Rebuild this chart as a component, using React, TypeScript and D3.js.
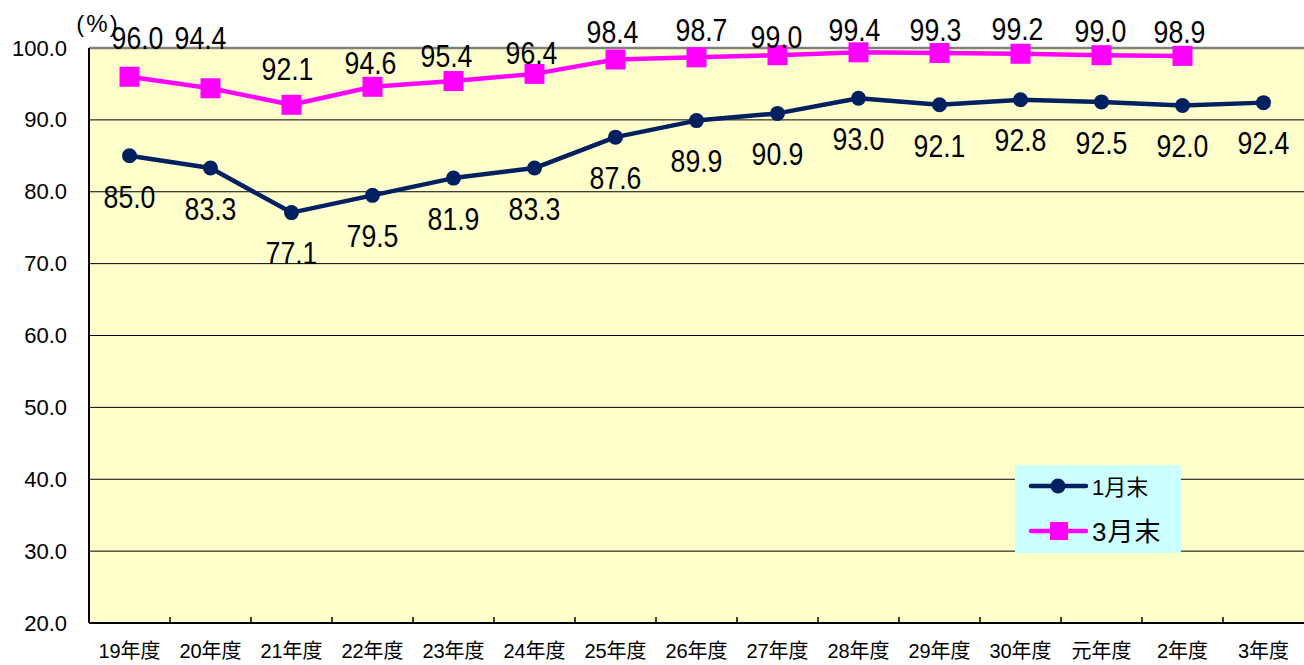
import React, { useEffect, useRef } from 'react';
import * as d3 from 'd3';

// fiscal years on the x axis
const categories = ['19年度', '20年度', '21年度', '22年度', '23年度', '24年度', '25年度', '26年度', '27年度', '28年度', '29年度', '30年度', '元年度', '2年度', '3年度'];

// end of January (%)
const janValues = [85.0, 83.3, 77.1, 79.5, 81.9, 83.3, 87.6, 89.9, 90.9, 93.0, 92.1, 92.8, 92.5, 92.0, 92.4];
// end of March (%) - no value yet for 3年度
const marValues = [96.0, 94.4, 92.1, 94.6, 95.4, 96.4, 98.4, 98.7, 99.0, 99.4, 99.3, 99.2, 99.0, 98.9];

const yTicks = [20, 30, 40, 50, 60, 70, 80, 90, 100];

const janName = '1月末';
const marName = '3月末';

// hand-placed label nudges for the March series (px, relative to the marker)
const marLabelNudge: [number, number][] = [
  [8, -38], [-10, -50], [-4, -36], [-2, -24], [-7, -25], [-3, -21], [-3, -27],
  [5, -27], [-1, -18], [-4, -22], [-4, -23], [-3, -24], [-1, -24], [-3, -24],
];

const FONT = '"Liberation Sans", Arial, "Noto Sans CJK JP", sans-serif';
const NAVY = '#002060';
const MAGENTA = '#ff00ff';

const App = () => {
  const svgRef = useRef<SVGSVGElement | null>(null);

  useEffect(() => {
    if (!svgRef.current) return;
    const svg = d3.select(svgRef.current);
    svg.selectAll('*').remove();

    const width = 1304;
    const height = 665;
    const left = 89, right = 1304, top = 48, bottom = 623;

    svg.attr('width', width).attr('height', height);

    const x = d3.scaleBand<string>().domain(categories).range([left, right]);
    const y = d3.scaleLinear().domain([20, 100]).range([bottom, top]);
    const cx = (i: number) => (x(categories[i]) as number) + x.bandwidth() / 2;

    // plot background
    svg.append('rect')
      .attr('x', left).attr('y', top)
      .attr('width', right - left).attr('height', bottom - top)
      .attr('fill', '#ffffcc');

    // gridlines
    svg.append('g')
      .selectAll('line')
      .data(yTicks.filter(t => t > 20))
      .join('line')
      .attr('x1', left).attr('x2', right)
      .attr('y1', d => y(d)).attr('y2', d => y(d))
      .attr('stroke', d => (d === 100 ? '#808080' : '#000'))
      .attr('stroke-width', d => (d === 100 ? 2.5 : 1));

    // y axis
    svg.append('line')
      .attr('x1', left).attr('x2', left)
      .attr('y1', top).attr('y2', bottom)
      .attr('stroke', '#000').attr('stroke-width', 2);

    svg.append('g')
      .selectAll('text')
      .data(yTicks)
      .join('text')
      .attr('x', 67)
      .attr('y', d => y(d))
      .attr('text-anchor', 'end')
      .attr('dominant-baseline', 'central')
      .attr('font-family', FONT)
      .attr('font-size', 22)
      .text(d => d.toFixed(1));

    // x axis
    svg.append('line')
      .attr('x1', left).attr('x2', right)
      .attr('y1', bottom).attr('y2', bottom)
      .attr('stroke', '#000').attr('stroke-width', 2);

    svg.append('g')
      .selectAll('line')
      .data(categories.slice(1))
      .join('line')
      .attr('x1', d => x(d) as number).attr('x2', d => x(d) as number)
      .attr('y1', bottom).attr('y2', bottom - 6)
      .attr('stroke', '#000').attr('stroke-width', 1.5);

    svg.append('g')
      .selectAll('text')
      .data(categories)
      .join('text')
      .attr('x', (d, i) => cx(i))
      .attr('y', 651)
      .attr('text-anchor', 'middle')
      .attr('dominant-baseline', 'central')
      .attr('font-family', FONT)
      .attr('font-size', 20)
      .text(d => d);

    // unit
    svg.append('text')
      .attr('x', 98).attr('y', 23)
      .attr('text-anchor', 'middle')
      .attr('dominant-baseline', 'central')
      .attr('font-family', FONT)
      .attr('font-size', 24)
      .attr('letter-spacing', 2)
      .text('(%)');

    const line = d3.line<number>()
      .x((d, i) => cx(i))
      .y(d => y(d));

    // January series
    svg.append('path')
      .datum(janValues)
      .attr('fill', 'none')
      .attr('stroke', NAVY)
      .attr('stroke-width', 4.5)
      .attr('stroke-linejoin', 'round')
      .attr('d', line);

    svg.append('g')
      .selectAll('circle')
      .data(janValues)
      .join('circle')
      .attr('cx', (d, i) => cx(i))
      .attr('cy', d => y(d))
      .attr('r', 7.5)
      .attr('fill', NAVY);

    // March series
    svg.append('path')
      .datum(marValues)
      .attr('fill', 'none')
      .attr('stroke', MAGENTA)
      .attr('stroke-width', 4.5)
      .attr('stroke-linejoin', 'round')
      .attr('d', line);

    svg.append('g')
      .selectAll('rect')
      .data(marValues)
      .join('rect')
      .attr('x', (d, i) => cx(i) - 10)
      .attr('y', d => y(d) - 10)
      .attr('width', 20).attr('height', 20)
      .attr('fill', MAGENTA);

    // data labels (tall, narrow digits)
    const label = (g: d3.Selection<SVGGElement, unknown, null, undefined>, px: number, py: number, txt: string) => {
      g.append('text')
        .attr('transform', `translate(${px},${py}) scale(0.86,1)`)
        .attr('text-anchor', 'middle')
        .attr('dominant-baseline', 'central')
        .attr('font-family', FONT)
        .attr('font-size', 31)
        .attr('fill', '#000')
        .text(txt);
    };

    const labels = svg.append('g');
    janValues.forEach((v, i) => label(labels, cx(i), y(v) + 41, v.toFixed(1)));
    marValues.forEach((v, i) => {
      const [dx, dy] = marLabelNudge[i];
      label(labels, cx(i) + dx, y(v) + dy, v.toFixed(1));
    });

    // legend
    const lg = svg.append('g');
    lg.append('rect')
      .attr('x', 1015).attr('y', 465)
      .attr('width', 166).attr('height', 88)
      .attr('fill', '#ccffff');

    lg.append('line')
      .attr('x1', 1031).attr('x2', 1086).attr('y1', 486).attr('y2', 486)
      .attr('stroke', NAVY).attr('stroke-width', 4.5).attr('stroke-linecap', 'round');
    lg.append('circle')
      .attr('cx', 1058).attr('cy', 486).attr('r', 7.5)
      .attr('fill', NAVY);
    lg.append('text')
      .attr('x', 1092).attr('y', 487)
      .attr('dominant-baseline', 'central')
      .attr('font-family', FONT)
      .attr('font-size', 22)
      .text(janName);

    lg.append('line')
      .attr('x1', 1031).attr('x2', 1086).attr('y1', 531).attr('y2', 531)
      .attr('stroke', MAGENTA).attr('stroke-width', 4.5).attr('stroke-linecap', 'round');
    lg.append('rect')
      .attr('x', 1050).attr('y', 522).attr('width', 18).attr('height', 18)
      .attr('fill', MAGENTA);
    lg.append('text')
      .attr('x', 1092).attr('y', 532)
      .attr('dominant-baseline', 'central')
      .attr('font-family', FONT)
      .attr('font-size', 26)
      .attr('letter-spacing', 1)
      .text(marName);
  }, []);

  return (
    <svg ref={svgRef} style={{ position: 'absolute', left: 0, top: 0, background: '#fff' }}></svg>
  );
};

export default App;
